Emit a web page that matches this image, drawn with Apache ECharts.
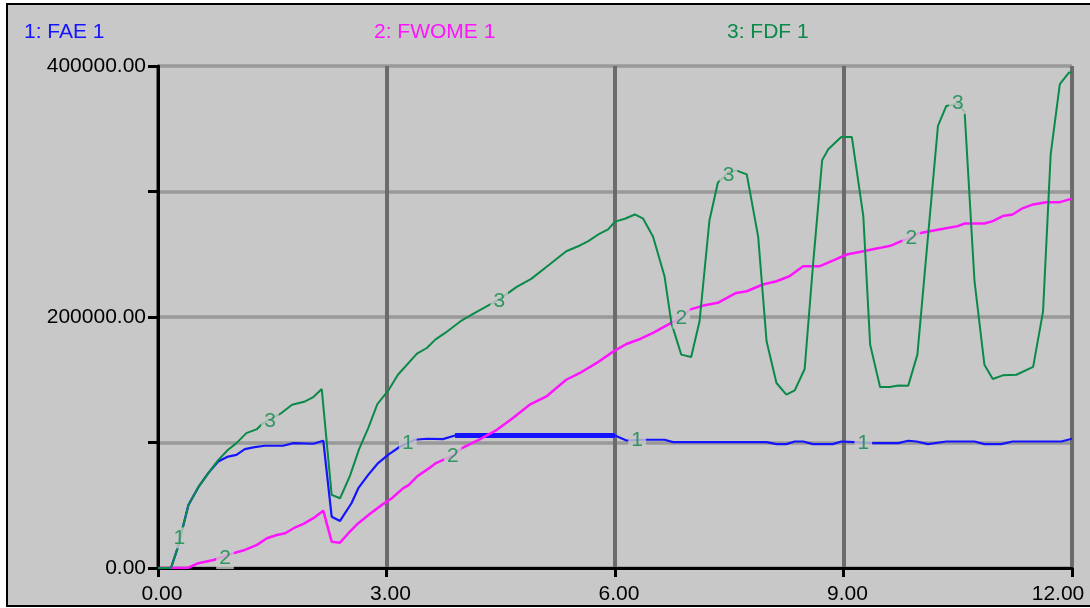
<!DOCTYPE html>
<html>
<head>
<meta charset="utf-8">
<script src="https://cdn.jsdelivr.net/npm/echarts@6.0.0/dist/echarts.min.js"></script>
<style>
    html, body { margin: 0; padding: 0; background: #fff; }
    #chart { width: 1090px; height: 608px; }
</style>
</head>
<body>
<div id="chart"></div>
<script>
    // time axis ticks
    var xTicks = [0, 3, 6, 9, 12];
    var seriesNames = ['1: FAE 1', '2: FWOME 1', '3: FDF 1'];

    // 1: FAE 1  [time, value]
    var faeData = [[0,0],[0.17,0],[0.25,14400],[0.35,38300],[0.4,50300],[0.53,64400],[0.66,75600],[0.79,84800],
        [0.92,88800],[1.03,90200],[1.14,94700],[1.27,96300],[1.4,97400],[1.64,97400],[1.78,99500],[2.04,99000],
        [2.17,101400],[2.28,40900],[2.39,37500],[2.54,51600],[2.63,63600],[2.76,74200],[2.89,83600],[3.02,90200],
        [3.18,96800],[3.37,102200],[3.53,103000],[3.74,102700],[3.9,105600],[6.0,105600],[6.15,101600],[6.37,102200],
        [6.65,102200],[6.76,100300],[7.99,100300],[8.12,98700],[8.25,98700],[8.36,100800],[8.47,100800],[8.6,98700],
        [8.86,98700],[8.97,100800],[9.15,100300],[9.37,99500],[9.72,99500],[9.85,101400],[9.96,100800],[10.11,98700],
        [10.35,100800],[10.72,100800],[10.85,98700],[11.07,98700],[11.22,100800],[11.86,100800],[12,103000]];

    // 2: FWOME 1
    var fwomeData = [[0,0],[0.17,0],[0.39,0],[0.53,3800],[0.73,6400],[1.01,12200],[1.14,14400],[1.3,18400],
        [1.43,23700],[1.56,26300],[1.67,27700],[1.78,31700],[1.91,35100],[2.04,39700],[2.17,45700],[2.28,21000],
        [2.39,20200],[2.5,27700],[2.63,35700],[2.78,43100],[2.94,50300],[3.07,55600],[3.22,63600],[3.29,66000],
        [3.4,72900],[3.58,80400],[3.65,83600],[3.87,89500],[3.99,95500],[4.23,102700],[4.45,110100],[4.66,119500],
        [4.88,130100],[5.1,136700],[5.23,143400],[5.36,150000],[5.54,155400],[5.76,163400],[5.98,172600],
        [6.15,178500],[6.33,182500],[6.5,187300],[6.72,194700],[6.87,199000],[6.98,205900],[7.16,209100],
        [7.35,211300],[7.59,219200],[7.73,220500],[7.94,225900],[8.12,228500],[8.29,232500],[8.47,240500],
        [8.69,240500],[8.86,245000],[9.04,249800],[9.26,252400],[9.48,255100],[9.63,257000],[9.76,260400],
        [9.89,263500],[9.98,266600],[10.13,268400],[10.31,270300],[10.5,272400],[10.59,274500],[10.85,274500],
        [10.96,276400],[11.09,280400],[11.22,281700],[11.34,286300],[11.49,289700],[11.66,291500],[11.84,291500],
        [12,294300]];

    // 3: FDF 1
    var fdfData = [[0,0],[0.17,0],[0.25,14400],[0.35,38300],[0.4,50300],[0.53,64400],[0.66,75600],[0.79,86000],
        [0.92,94200],[1.03,99500],[1.16,107500],[1.3,110700],[1.38,115500],[1.47,118500],[1.62,123500],[1.76,130100],
        [1.93,132700],[2.04,136200],[2.15,142600],[2.28,58300],[2.39,55600],[2.52,73400],[2.64,94700],[2.76,111500],
        [2.88,130600],[3.03,142000],[3.15,154000],[3.4,170800],[3.53,175300],[3.64,182000],[3.77,187300],
        [3.99,197400],[4.16,203300],[4.48,214000],[4.71,224000],[4.9,230400],[5.14,241800],[5.36,252400],
        [5.54,257000],[5.65,260400],[5.8,266500],[5.91,269800],[6.0,276000],[6.13,278300],[6.26,281700],
        [6.37,278300],[6.5,263900],[6.65,232500],[6.74,195300],[6.87,170000],[7.0,168200],[7.11,196600],
        [7.24,276900],[7.35,307000],[7.5,316000],[7.59,316800],[7.73,313600],[7.88,263900],[7.99,180600],
        [8.12,147400],[8.25,138100],[8.36,141500],[8.49,158600],[8.6,241800],[8.72,325000],[8.8,333600],
        [8.97,343400],[9.11,343400],[9.26,280400],[9.35,178000],[9.48,144200],[9.61,144200],[9.72,145500],
        [9.85,145300],[9.97,170000],[10.1,257800],[10.24,352200],[10.35,368200],[10.5,370000],[10.59,363400],
        [10.72,228500],[10.85,162000],[10.96,150600],[11.09,153500],[11.27,154000],[11.49,160200],[11.62,204500],
        [11.72,329600],[11.84,385500],[11.96,394800],[12,394800]];

    // where the series numbers sit on the lines
    var faeLabels = [[0.28,24000],[3.28,99800],[6.29,101600],[9.26,99500]];
    var fwomeLabels = [[0.88,7500],[3.87,89000],[6.87,199000],[9.89,263000]];
    var fdfLabels = [[1.47,117000],[4.48,212500],[7.49,313000],[10.5,370000]];

    var BG = '#c8c8c8';
    var FONT = '"Liberation Sans", Arial, sans-serif';
    var FS = 21;
    var colors = ['#1414ff', '#ff14ff', '#0a8a48'];

    var labelSeries = function(data, num) {
        return {
            type: 'scatter',
            data: data,
            symbolSize: 0,
            z: 10,
            silent: true,
            label: {
                show: true,
                position: 'inside',
                formatter: num,
                color: colors[2],
                fontSize: FS,
                fontFamily: FONT,
                backgroundColor: BG,
                padding: [0, 3],
                lineHeight: 21
            }
        };
    };

    var myChart = echarts.init(document.getElementById('chart'));
    var option = {
        animation: false,
        backgroundColor: '#ffffff',
        graphic: [{
            type: 'rect',
            z: -10,
            shape: { x: 7, y: 4, width: 1100, height: 602 },
            style: { fill: BG, stroke: '#000', lineWidth: 2 }
        }, {
            type: 'text', x: 24, y: 32, z: 10,
            style: { text: seriesNames[0], fill: colors[0], font: FS + 'px ' + FONT, verticalAlign: 'middle' }
        }, {
            type: 'text', x: 374, y: 32, z: 10,
            style: { text: seriesNames[1], fill: colors[1], font: FS + 'px ' + FONT, verticalAlign: 'middle' }
        }, {
            type: 'text', x: 727, y: 32, z: 10,
            style: { text: seriesNames[2], fill: colors[2], font: FS + 'px ' + FONT, verticalAlign: 'middle' }
        }],
        grid: {
            left: 158,
            right: 18,
            top: 66,
            bottom: 40,
            outerBoundsMode: 'none'
        },
        xAxis: {
            type: 'value',
            min: xTicks[0],
            max: xTicks[xTicks.length - 1],
            interval: 3,
            axisLine: { lineStyle: { color: '#000', width: 3 } },
            axisTick: { length: 9, lineStyle: { color: '#000', width: 3 } },
            axisLabel: {
                margin: 16,
                color: '#000',
                fontSize: FS,
                fontFamily: FONT,
                formatter: function(v) {
                    return v === 12 ? '{r|12.00}' : '{n|' + v.toFixed(2) + '}';
                },
                rich: {
                    n: { fontSize: FS, fontFamily: FONT, color: '#000', padding: [0, 0, 0, 8] },
                    r: { fontSize: FS, fontFamily: FONT, color: '#000', padding: [0, 28, 0, 0] }
                }
            },
            splitLine: { show: true, lineStyle: { color: '#6b6b6b', width: 4 } }
        },
        yAxis: {
            type: 'value',
            min: 0,
            max: 400000,
            interval: 100000,
            axisLine: { show: true, lineStyle: { color: '#000', width: 3 } },
            axisTick: { show: true, length: 10, lineStyle: { color: '#000', width: 3 } },
            axisLabel: {
                margin: 12,
                color: '#000',
                fontSize: FS,
                fontFamily: FONT,
                formatter: function(v) {
                    return v % 200000 === 0 ? v.toFixed(2) : '';
                }
            },
            splitLine: { show: true, lineStyle: { color: '#999999', width: 3.5 } }
        },
        series: [{
            name: seriesNames[0],
            type: 'line',
            data: faeData,
            showSymbol: false,
            color: colors[0],
            lineStyle: { width: 2.2 }
        }, {
            // bold stretch drawn by the original plot
            type: 'line',
            data: faeData.filter(function(p) { return p[0] >= 3.9 && p[0] <= 6.0; }),
            showSymbol: false,
            color: colors[0],
            lineStyle: { width: 5 }
        }, {
            name: seriesNames[1],
            type: 'line',
            data: fwomeData,
            showSymbol: false,
            color: colors[1],
            lineStyle: { width: 2.5 }
        }, {
            name: seriesNames[2],
            type: 'line',
            data: fdfData,
            showSymbol: false,
            color: colors[2],
            lineStyle: { width: 2 }
        },
            labelSeries(faeLabels, '1'),
            labelSeries(fwomeLabels, '2'),
            labelSeries(fdfLabels, '3')
        ]
    };
    myChart.setOption(option);
</script>
</body>
</html>
